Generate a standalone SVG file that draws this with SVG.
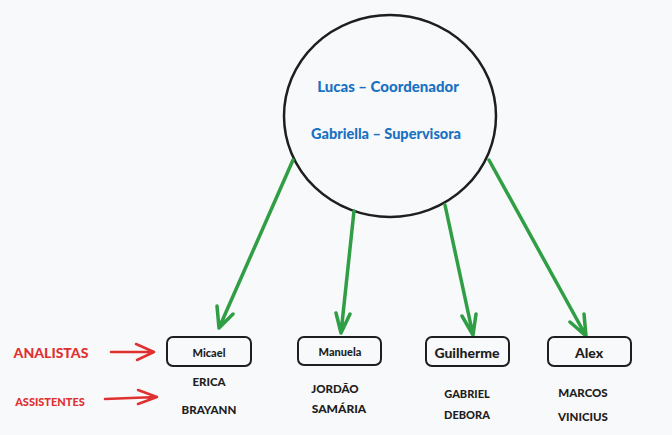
<svg xmlns="http://www.w3.org/2000/svg" width="672" height="435" viewBox="0 0 672 435">
<style>
.t{font-family:Lato,"Noto Sans",sans-serif;font-weight:900;text-anchor:middle;dominant-baseline:central}
.blue{fill:#1971c2}
.dark{fill:#1e1e1e}
.red{fill:#e03131}
.box{fill:none;stroke:#1e1e1e;stroke-width:2}
.g{stroke:#2f9e44;stroke-width:3.5;fill:none;stroke-linecap:round;stroke-linejoin:round}
.r{stroke:#e03131;stroke-width:2.5;fill:none;stroke-linecap:round;stroke-linejoin:round}
</style>
<rect width="672" height="435" fill="#f8f9fa"/>
<g id="centro">
<ellipse cx="390" cy="116" rx="106" ry="101" fill="none" stroke="#1e1e1e" stroke-width="2.5"/>
<text class="t blue" x="388" y="86" font-size="15">Lucas – Coordenador</text>
<text class="t blue" x="386" y="133" font-size="14.5">Gabriella – Supervisora</text>
</g>
<g id="connectors">
<path class="g" d="M293 160 L219 328 M217 306 L219 328 L233 314"/>
<path class="g" d="M354 211 L341 333 M336 313 L341 333 L350 314"/>
<path class="g" d="M445 205 L473 335 M462 316 L473 335 L476 314"/>
<path class="g" d="M489 160 L586 336 M570 322 L586 336 L584 314"/>
<path class="r" d="M111 352 L154 352 M136 344 L154 352 L137 360"/>
<path class="r" d="M105 399 L157 397 M138 390 L157 397 L138 404"/>
</g>
<g id="micael">
<rect class="box" x="167" y="337" width="84" height="29" rx="6"/>
<text class="t dark" x="209" y="352" font-size="11">Micael</text>
<text class="t dark" x="209" y="381" font-size="11.5">ERICA</text>
<text class="t dark" x="209" y="409" font-size="11.5">BRAYANN</text>
</g>
<g id="manuela">
<rect class="box" x="298" y="337" width="83" height="28" rx="6"/>
<text class="t dark" x="340" y="351" font-size="11">Manuela</text>
<text class="t dark" x="335" y="388" font-size="11.5">JORDÃO</text>
<text class="t dark" x="339" y="408" font-size="12">SAMÁRIA</text>
</g>
<g id="guilherme">
<rect class="box" x="426" y="337" width="83" height="29" rx="6"/>
<text class="t dark" x="467" y="352" font-size="14">Guilherme</text>
<text class="t dark" x="467" y="393" font-size="11">GABRIEL</text>
<text class="t dark" x="467" y="414" font-size="11">DEBORA</text>
</g>
<g id="alex">
<rect class="box" x="548" y="337" width="83" height="29" rx="6"/>
<text class="t dark" x="589" y="352" font-size="14">Alex</text>
<text class="t dark" x="583" y="392" font-size="11.5">MARCOS</text>
<text class="t dark" x="583" y="416" font-size="11.5">VINICIUS</text>
</g>
<g id="analistas">
<text class="t red" x="51" y="352" font-size="14">ANALISTAS</text>
</g>
<g id="assistentes">
<text class="t red" x="50" y="401" font-size="11">ASSISTENTES</text>
</g>
</svg>
